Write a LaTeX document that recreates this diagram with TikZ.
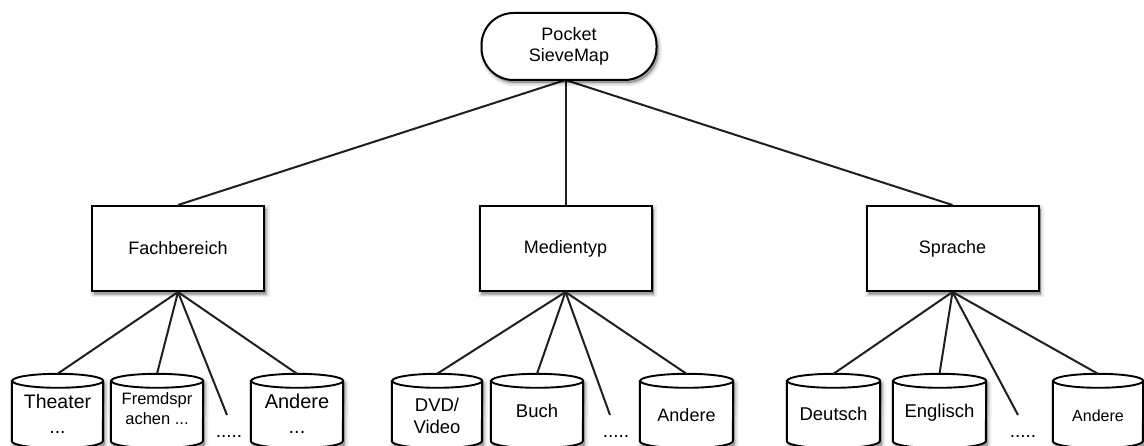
\documentclass[tikz,border=0pt]{standalone}
\usepackage{fontspec}
\setmainfont{Liberation Sans}
\usetikzlibrary{calc}

\tikzset{
  % soft shadow built from a few translucent offset copies of the outline
  shade/.style={
    preaction={draw=black, fill=black, opacity=0.07, line width=7pt,
      transform canvas={shift={(2pt,-3pt)}}},
    preaction={draw=black, fill=black, opacity=0.09, line width=3.5pt,
      transform canvas={shift={(2pt,-3pt)}}},
    preaction={draw=black, fill=black, opacity=0.12, line width=0.5pt,
      transform canvas={shift={(2pt,-3pt)}}}},
  pillbox/.style={draw, line width=2pt, fill=white, rounded corners=32pt,
    minimum width=175pt, minimum height=67pt, align=center, inner sep=0pt,
    font=\fontsize{18}{21.5}\selectfont, shade},
  catbox/.style={draw, line width=2pt, fill=white, minimum width=172pt,
    minimum height=85pt, inner sep=0pt, font=\fontsize{18}{21.5}\selectfont, shade},
  drumbody/.style={draw=none, minimum height=74pt, inner sep=0pt},
  drumline/.style={draw, line width=1.9pt, fill=white},
  drumtext/.style={align=center, inner sep=0pt},
  link/.style={line width=2pt, draw=black!88},
  dots/.style={inner sep=0pt, font=\fontsize{19}{22}\selectfont},
}

% drum: name, centre x, width, text y, font size, line skip, text
\newcommand\drum[7]{%
  \node[drumbody, minimum width=#3pt] (#1) at (#2,411) {};
  \path[drumline, shade] ([yshift=-7pt]#1.north west) -- ([yshift=7pt]#1.south west)
    arc[start angle=180, end angle=360, x radius=#3*0.5pt, y radius=7pt]
    -- ([yshift=-7pt]#1.north east)
    arc[start angle=0, end angle=180, x radius=#3*0.5pt, y radius=7pt] -- cycle;
  \draw[drumline, fill=none] ([yshift=-7pt]#1.north east)
    arc[start angle=0, end angle=-180, x radius=#3*0.5pt, y radius=7pt];
  \node[drumtext, font=\fontsize{#5}{#6}\selectfont] (#1-text) at (#2,#4) {#7};
}

\begin{document}
\begin{tikzpicture}[x=1pt, y=-1pt]
  \useasboundingbox[fill=white] (0,0) rectangle (1144,446);

  % links from the root, drawn first so the boxes sit on top
  \coordinate (hub) at (565.5,80);
  \node[catbox] (fb) at (178,248.5) {Fachbereich};
  \node[catbox] (mt) at (565.5,248.5) {Medientyp};
  \node[catbox] (sp) at (952.5,248.5) {Sprache};
  \draw[link] (hub) -- (fb.north);
  \draw[link] (hub) -- (mt.north);
  \draw[link] (hub) -- (sp.north);
  \node[pillbox] (root) at (569,46.5) {Pocket\\SieveMap};

  % links to the leaves
  \coordinate (tailA) at (227,415);
  \coordinate (tailB) at (610,415);
  \coordinate (tailC) at (1018,415);
  \draw[link] (fb.south) -- (tailA);
  \draw[link] (mt.south) -- (tailB);
  \draw[link] (sp.south) -- (tailC);

  % leaves
  \drum{theater}{57.5}{91}{414}{19.5}{25}{Theater\\...}
  \drum{fremd}{157}{92}{409}{16.5}{20}{Fremdspr\\achen ...}
  \drum{andereA}{297}{92}{414}{20}{25}{Andere\\...}
  \drum{dvd}{437}{90}{416}{18.5}{22}{DVD/\\Video}
  \drum{buch}{537}{92}{411}{18.5}{22}{Buch}
  \drum{andereB}{686.5}{93}{415}{18}{22}{Andere}
  \drum{deutsch}{833.5}{93}{414}{18.5}{22}{Deutsch}
  \drum{englisch}{939.5}{93}{413}{18.5}{22}{Englisch}
  \drum{andereC}{1098}{90}{416}{16}{20}{Andere}

  \node[dots] (moreA) at (229,436) {.....};
  \node[dots] (moreB) at (616,436) {.....};
  \node[dots] (moreC) at (1023,436) {.....};

  \foreach \leaf in {theater, fremd, andereA} \draw[link] (fb.south) -- (\leaf.north);
  \foreach \leaf in {dvd, buch, andereB} \draw[link] (mt.south) -- (\leaf.north);
  \foreach \leaf in {deutsch, englisch, andereC} \draw[link] (sp.south) -- (\leaf.north);
\end{tikzpicture}
\end{document}
